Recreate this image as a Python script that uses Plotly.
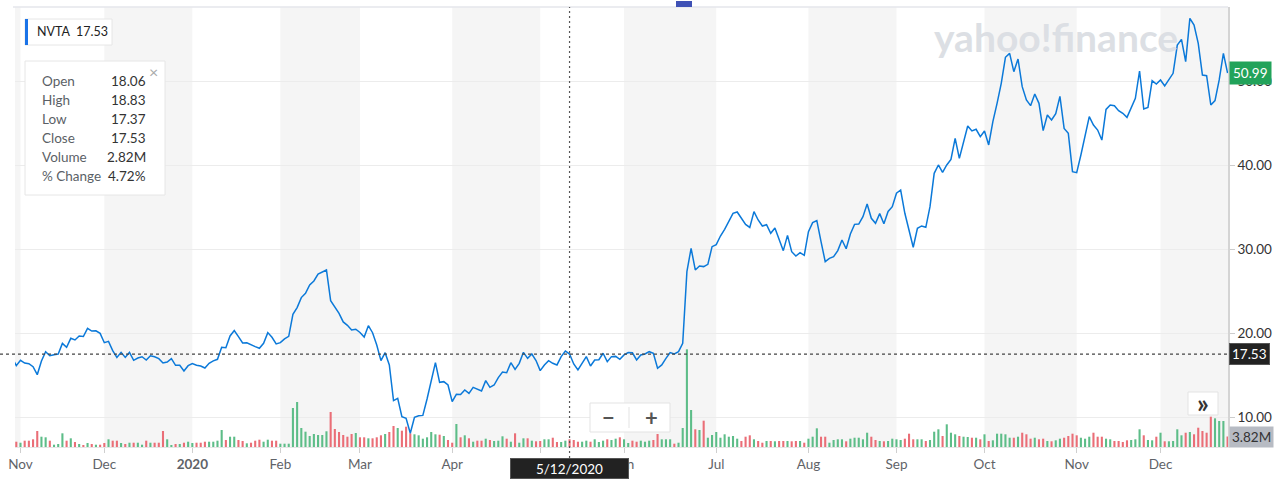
import pandas as pd
import plotly.graph_objects as go

# ---------------- data ----------------
ticker = "NVTA"
holidays = ["2019-11-28", "2019-12-25", "2020-01-01", "2020-01-20", "2020-02-17",
            "2020-04-10", "2020-05-25", "2020-07-03", "2020-09-07", "2020-11-26"]
start_date, end_date = "2019-10-30", "2020-12-23"

closes = [
    17.13,
    16.14, 16.78, 16.46, 16.38, 16.02, 15.07, 16.70, 17.81, 17.33, 17.45,
    17.53, 18.80, 18.33, 19.40, 19.20, 19.67, 19.62, 20.59, 20.27, 20.30,
    19.99, 18.88, 19.04, 17.93, 17.13, 17.73, 17.13, 17.73, 16.78, 17.06,
    17.21, 16.82, 17.33, 17.21, 16.98, 16.46, 16.58, 16.98, 16.18, 16.18,
    15.51, 16.14, 16.39, 16.19, 16.11, 15.87, 16.43, 16.71, 16.90, 18.33,
    18.29, 19.68, 20.32, 19.60, 18.85, 18.86, 18.61, 18.41, 18.21, 18.81,
    20.08, 19.52, 18.73, 18.89, 19.33, 19.64, 22.26, 23.06, 24.25, 24.76,
    25.75, 26.23, 27.06, 27.26, 27.54, 23.89, 23.17, 22.38, 21.35, 20.95,
    20.40, 20.48, 20.10, 19.56, 20.90, 20.07, 18.60, 16.74, 17.69, 16.22,
    11.98, 12.26, 10.07, 9.87, 8.09, 9.99, 10.17, 10.22, 12.18, 14.52,
    16.50, 14.16, 14.24, 13.84, 11.86, 12.73, 12.70, 13.25, 12.85, 13.56,
    13.37, 13.13, 14.36, 13.56, 13.84, 14.72, 15.39, 15.31, 16.50, 15.71,
    16.42, 17.73, 17.02, 17.53, 16.75, 15.55, 16.23, 16.74, 16.43, 16.23,
    17.22, 17.89, 17.53, 16.35, 15.63, 16.43, 17.22, 16.11, 16.82, 16.85,
    17.62, 16.62, 17.22, 17.25, 16.90, 17.42, 17.70, 17.68, 16.82, 17.42,
    17.54, 17.81, 17.62, 15.83, 16.23, 17.02, 17.70, 17.54, 17.81, 18.81,
    27.34, 30.12, 27.54, 28.01, 27.94, 28.21, 30.31, 30.55, 31.58, 32.38,
    33.29, 34.28, 34.44, 33.69, 32.97, 32.61, 34.48, 33.49, 32.77, 32.93,
    31.90, 32.53, 31.17, 29.84, 31.66, 29.72, 29.20, 29.60, 29.28, 32.10,
    33.17, 33.41, 30.91, 28.53, 28.92, 29.12, 29.84, 31.11, 30.07, 31.82,
    32.97, 33.01, 33.88, 35.39, 33.69, 33.09, 34.25, 33.05, 34.50, 35.08,
    36.67, 37.06, 34.29, 32.10, 30.24, 32.50, 32.78, 32.62, 35.08, 39.05,
    40.04, 39.17, 40.04, 40.71, 43.21, 40.83, 42.82, 44.68, 44.09, 44.29,
    43.41, 44.09, 42.42, 45.20, 47.38, 49.76, 52.86, 53.33, 51.15, 52.66,
    49.36, 47.78, 47.10, 48.49, 47.38, 44.13, 45.99, 45.40, 46.15, 48.20,
    44.40, 43.81, 39.24, 39.12, 41.23, 43.41, 45.79, 44.80, 44.20, 43.01,
    46.66, 47.18, 47.10, 46.51, 46.19, 45.71, 46.86, 47.97, 51.23, 46.70,
    46.90, 50.08, 49.68, 50.16, 49.44, 50.16, 50.95, 54.32, 55.00, 52.34,
    57.50, 56.70, 54.52, 50.75, 50.67, 47.18, 47.70, 50.16, 53.33, 50.99,
]

volumes_m = [
    2.00,
    1.94, 1.57, 2.31, 2.31, 2.82, 5.86, 3.77, 3.55, 2.31, 0.84,
    1.10, 5.01, 2.31, 3.18, 1.83, 1.10, 0.73, 1.46, 1.10, 0.84,
    0.84, 1.46, 2.82, 2.31, 2.31, 1.46, 1.10, 1.57, 1.57, 1.57,
    0.84, 2.31, 1.57, 1.57, 1.57, 5.86, 2.82, 0.37, 1.10, 1.10,
    1.57, 1.94, 1.46, 1.57, 1.57, 1.94, 1.94, 1.94, 2.31, 6.22,
    2.56, 3.77, 3.77, 2.56, 2.20, 1.35, 1.57, 2.31, 2.67, 1.94,
    2.67, 2.31, 2.31, 1.21, 1.21, 1.21, 14.27, 16.47, 6.95, 5.60,
    4.03, 4.76, 4.39, 4.39, 5.75, 12.81, 6.59, 5.49, 4.39, 3.77,
    4.76, 5.12, 3.55, 3.55, 3.18, 3.18, 3.55, 4.28, 4.76, 5.49,
    7.69, 6.95, 5.97, 7.43, 5.01, 4.65, 4.28, 3.04, 3.55, 5.49,
    4.65, 4.50, 4.03, 2.56, 1.57, 8.42, 3.55, 4.28, 3.18, 1.94,
    2.31, 2.31, 3.04, 2.56, 2.20, 2.31, 3.92, 3.04, 1.94, 5.01,
    1.57, 3.18, 3.18, 2.31, 2.09, 2.20, 2.82, 2.82, 3.40, 1.83,
    1.83, 2.31, 2.82, 2.56, 1.94, 1.94, 2.31, 1.94, 2.82, 1.83,
    2.31, 2.82, 2.56, 3.04, 3.55, 2.82, 1.46, 2.31, 1.94, 2.31,
    1.94, 2.31, 2.56, 4.76, 2.82, 2.82, 2.82, 1.21, 1.57, 6.95,
    35.76, 13.54, 6.48, 6.22, 9.63, 3.40, 4.39, 5.49, 3.40, 4.65,
    3.77, 4.03, 3.04, 2.20, 3.77, 4.28, 2.82, 2.20, 1.57, 2.20,
    2.20, 2.09, 2.20, 2.20, 2.20, 2.09, 2.20, 2.20, 1.57, 3.04,
    3.77, 6.84, 3.77, 3.77, 1.57, 2.56, 2.82, 2.82, 2.09, 3.04,
    3.40, 3.40, 2.82, 5.23, 3.77, 2.56, 2.20, 2.09, 2.20, 3.04,
    2.82, 2.56, 3.04, 4.87, 2.82, 2.82, 2.82, 2.20, 2.56, 5.60,
    6.48, 4.03, 8.31, 5.23, 4.65, 4.03, 3.77, 3.66, 3.40, 3.40,
    2.82, 4.65, 2.20, 2.45, 4.87, 4.87, 4.65, 3.40, 3.40, 3.77,
    5.23, 4.65, 3.04, 3.40, 2.82, 3.04, 2.20, 2.09, 2.45, 3.04,
    3.40, 4.03, 4.87, 4.28, 3.40, 3.04, 3.77, 5.23, 3.77, 3.77,
    3.04, 2.82, 2.20, 2.20, 1.83, 2.45, 2.56, 2.82, 6.48, 4.28,
    2.56, 2.45, 3.77, 5.23, 2.09, 2.09, 2.20, 6.48, 4.28, 5.23,
    5.49, 4.65, 7.06, 5.86, 5.23, 11.09, 10.50, 9.52, 9.52, 3.82,
]

month_labels = ["Nov", "Dec", "<b>2020</b>", "Feb", "Mar", "Apr", "May", "Jun",
                "Jul", "Aug", "Sep", "Oct", "Nov", "Dec"]
price_ticks = [10, 20, 30, 40, 50]

tooltip_labels = ["Open", "High", "Low", "Close", "Volume", "% Change"]
tooltip_values = ["18.06", "18.83", "17.37", "17.53", "2.82M", "4.72%"]
cursor_date = "2020-05-12"
cursor_label = "5/12/2020"
cursor_price = 17.53
last_price = 50.99
last_volume_label = "3.82M"

# ---------------- derived categories ----------------
dates = [d.strftime("%Y-%m-%d") for d in pd.bdate_range(start_date, end_date)
         if d.strftime("%Y-%m-%d") not in holidays]
assert len(dates) == len(closes) == len(volumes_m), (len(dates), len(closes), len(volumes_m))

month_first_idx = []
seen = set()
for i, d in enumerate(dates):
    ym = d[:7]
    if ym not in seen:
        seen.add(ym)
        if ym != "2019-10":
            month_first_idx.append(i)
tick_vals = [dates[i] for i in month_first_idx]

UP, DOWN = "#5dbd88", "#ea6e77"
bar_colors = [UP] + [UP if closes[i] >= closes[i - 1] else DOWN for i in range(1, len(closes))]

# ---------------- layout helpers (pixel -> paper) ----------------
L, R, T, B, W, H = 15, 52, 7, 39, 1280, 486
PW, PH = W - L - R, H - T - B
def px(x):
    return (x - L) / PW
def py(y):
    return (H - B - y) / PH

FONT = "Lato, 'Noto Sans', sans-serif"

fig = go.Figure()
fig.add_trace(go.Bar(x=dates, y=volumes_m, marker=dict(color=bar_colors, line=dict(width=0)),
                     yaxis="y", hoverinfo="skip", showlegend=False))
fig.add_trace(go.Scatter(x=dates, y=closes, mode="lines", yaxis="y2",
                         line=dict(color="#0b79d9", width=1.5), hoverinfo="skip", showlegend=False))

shapes = []
# alternating month shading (Oct 2019 sliver, Dec, Feb, Apr, Jun, Aug, Oct, Dec)
bounds = [-1] + month_first_idx + [len(dates) + 2]
for k in range(0, len(bounds) - 1, 2):
    shapes.append(dict(type="rect", xref="x", yref="paper", x0=bounds[k], x1=bounds[k + 1],
                       y0=0, y1=1, fillcolor="#f5f5f5", line=dict(width=0), layer="below"))
# top border
shapes.append(dict(type="line", xref="paper", yref="paper", x0=px(13), x1=1, y0=1, y1=1,
                   line=dict(color="#e4e6eb", width=1.5), layer="above"))
# crosshair
ci = dates.index(cursor_date)
shapes.append(dict(type="line", xref="x", yref="paper", x0=ci, x1=ci, y0=py(458), y1=1,
                   line=dict(color="#555555", width=1.2, dash="2px,3px"), layer="above"))
shapes.append(dict(type="line", xref="paper", yref="y2", x0=px(0), x1=1, y0=cursor_price, y1=cursor_price,
                   line=dict(color="#444444", width=1.2, dash="3px,3px"), layer="above"))
# blue event marker at top
shapes.append(dict(type="rect", xref="paper", yref="paper", x0=px(676), x1=px(692), y0=py(7), y1=py(1),
                   fillcolor="#3f51b5", line=dict(width=0), layer="above"))
# tooltip boxes
shapes.append(dict(type="rect", xref="paper", yref="paper", x0=px(25), x1=px(112), y0=py(45), y1=py(19),
                   fillcolor="white", line=dict(color="#e6e6e6", width=1), layer="above"))
shapes.append(dict(type="rect", xref="paper", yref="paper", x0=px(25), x1=px(28), y0=py(45), y1=py(19),
                   fillcolor="#1a73e8", line=dict(width=0), layer="above"))
shapes.append(dict(type="rect", xref="paper", yref="paper", x0=px(25), x1=px(165), y0=py(195), y1=py(61),
                   fillcolor="white", line=dict(color="#e6e6e6", width=1), layer="above"))
# zoom control box
shapes.append(dict(type="rect", xref="paper", yref="paper", x0=px(590), x1=px(670), y0=py(432), y1=py(403),
                   fillcolor="white", line=dict(color="#e3e3e3", width=1), layer="above"))
shapes.append(dict(type="line", xref="paper", yref="paper", x0=px(629), x1=px(629), y0=py(428), y1=py(407),
                   line=dict(color="#e3e3e3", width=1), layer="above"))
# >> button box
shapes.append(dict(type="rect", xref="paper", yref="paper", x0=px(1188), x1=px(1218), y0=py(415), y1=py(392),
                   fillcolor="white", line=dict(color="#e3e3e3", width=1), layer="above"))

ann = []
def note(text, x, y, xanchor="center", size=13, color="#333", **kw):
    d = dict(text=text, xref=kw.pop("xref", "paper"), yref=kw.pop("yref", "paper"), x=x, y=y,
             xanchor=xanchor, yanchor=kw.pop("yanchor", "middle"), showarrow=False,
             font=dict(family=FONT, size=size, color=color))
    d.update(kw)
    ann.append(d)

note("<b>yahoo!finance</b>", px(1056), py(37), size=39, color="#dcdfe4")
note(f"{ticker}  {tooltip_values[3]}", px(35), py(32), xanchor="left", size=12.5, color="#222")
row_y = [81, 100, 119, 138, 157, 176]
for lab, val, yy in zip(tooltip_labels, tooltip_values, row_y):
    note(lab, px(40), py(yy), xanchor="left", size=13.5, color="#5b5f66")
    note(val, px(148), py(yy), xanchor="right", size=13.5, color="#333")
note("×", px(153), py(72), size=16, color="#aaaaaa")
# right-axis value badges
note(f"{last_price:.2f}", px(1229), last_price, xanchor="left", size=13.5, color="white",
     yref="y2", bgcolor="#22a35a", borderpad=3)
note(f"{cursor_price:.2f}", px(1229), cursor_price, xanchor="left", size=13.5, color="white",
     yref="y2", bgcolor="#222222", bordercolor="#555", borderpad=2)
note(last_volume_label, px(1229), volumes_m[-1], xanchor="left", size=13.5, color="#333",
     yref="y", bgcolor="#b7bbc3", borderpad=2)
# crosshair date badge
note(cursor_label, ci, py(468.5), size=13.5, color="white", xref="x",
     bgcolor="#222222", bordercolor="#555", width=115, height=17)
# zoom controls
note("<b>−</b>", px(608), py(417), size=22, color="#555")
note("<b>+</b>", px(651), py(417), size=22, color="#555")
note("<b>»</b>", px(1203), py(403), size=26, color="#333")

n = len(dates)
fig.update_layout(
    width=W, height=H,
    margin=dict(l=L, r=R, t=T, b=B, pad=0),
    paper_bgcolor="white", plot_bgcolor="white",
    font=dict(family=FONT, size=13, color="#333"),
    bargap=0.5,
    hovermode=False,
    showlegend=False,
    xaxis=dict(type="category", categoryorder="array", categoryarray=dates,
               range=[0.69, n - 0.9], tickmode="array", tickvals=tick_vals, ticktext=month_labels,
               ticks="outside", ticklen=5, tickcolor="#cfcfcf", showgrid=False, zeroline=False,
               showline=True, linecolor="#e6e6e6", linewidth=1,
               tickfont=dict(family=FONT, size=13.5, color="#5f6368")),
    yaxis=dict(range=[0, PH * 0.366], visible=False, fixedrange=True),
    yaxis2=dict(overlaying="y", side="right", range=[6.46, 58.85], tickmode="array",
                tickvals=price_ticks, tickformat=".2f", showgrid=True, gridcolor="#ececec",
                gridwidth=1, zeroline=False, ticks="outside", ticklen=5, tickcolor="#cccccc",
                showline=True, linecolor="#d4d4d4", linewidth=1.5,
                tickfont=dict(family=FONT, size=13.5, color="#333")),
    shapes=shapes,
    annotations=ann,
)

fig.write_html("out.html", config={"displayModeBar": False},
               post_script="document.body.style.margin='0';document.body.style.overflow='hidden';")
